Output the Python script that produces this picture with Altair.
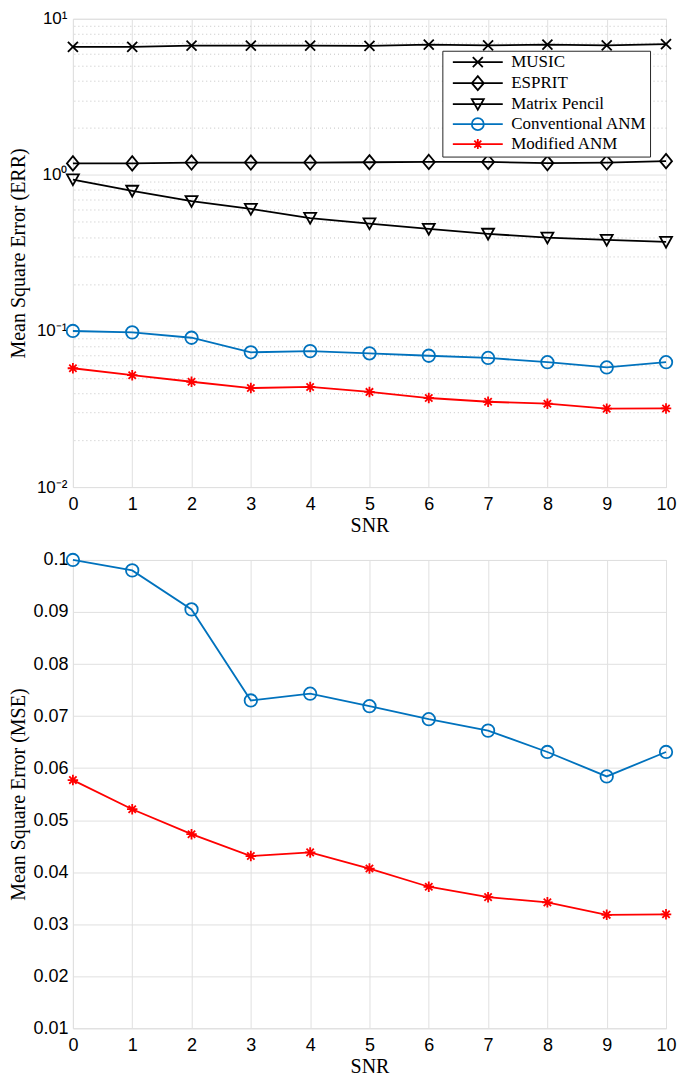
import altair as alt
import pandas as pd

# ---------------- data ----------------
snr = [0, 1, 2, 3, 4, 5, 6, 7, 8, 9, 10]
music = [6.60, 6.60, 6.73, 6.73, 6.73, 6.70, 6.83, 6.76, 6.83, 6.76, 6.89]
esprit = [1.185, 1.185, 1.20, 1.20, 1.20, 1.205, 1.21, 1.21, 1.19, 1.20, 1.225]
matrix_pencil = [0.934, 0.790, 0.679, 0.605, 0.529, 0.488, 0.451, 0.419, 0.396, 0.383, 0.372]
conventional_anm = [0.100, 0.098, 0.0905, 0.073, 0.0743, 0.0719, 0.0694, 0.0672, 0.0631, 0.0584, 0.0631]
modified_anm = [0.0577, 0.0521, 0.0473, 0.0431, 0.0438, 0.0407, 0.0372, 0.0352, 0.0342, 0.0318, 0.0319]

series_top = ["MUSIC", "ESPRIT", "Matrix Pencil", "Conventional ANM", "Modified ANM"]
series_bottom = ["Conventional ANM", "Modified ANM"]

x_ticks = [0, 1, 2, 3, 4, 5, 6, 7, 8, 9, 10]
top_major_ticks = [0.01, 0.1, 1, 10]
top_minor_ticks = [0.02, 0.03, 0.04, 0.05, 0.06, 0.07, 0.08, 0.09,
                   0.2, 0.3, 0.4, 0.5, 0.6, 0.7, 0.8, 0.9,
                   2, 3, 4, 5, 6, 7, 8, 9]
bottom_ticks = [0.01, 0.02, 0.03, 0.04, 0.05, 0.06, 0.07, 0.08, 0.09, 0.1]

values = {
    "MUSIC": music,
    "ESPRIT": esprit,
    "Matrix Pencil": matrix_pencil,
    "Conventional ANM": conventional_anm,
    "Modified ANM": modified_anm,
}

# ---------------- styles ----------------
colors = {
    "MUSIC": "#000000",
    "ESPRIT": "#000000",
    "Matrix Pencil": "#000000",
    "Conventional ANM": "#0072BD",
    "Modified ANM": "#FF0000",
}
marker_paths = {
    "MUSIC": "M-1,-1L1,1M-1,1L1,-1",
    "ESPRIT": "M0,-1.2L1,0L0,1.2L-1,0Z",
    "Matrix Pencil": "M-1,-0.85L1,-0.85L0,0.95Z",
    "Conventional ANM": "M1,0A1,1,0,1,1,-1,0A1,1,0,1,1,1,0Z",
    "Modified ANM": "M0,-1L0,1M-1,0L1,0M-0.7,-0.7L0.7,0.7M-0.7,0.7L0.7,-0.7",
}
marker_sizes = {
    "MUSIC": 100,
    "ESPRIT": 144,
    "Matrix Pencil": 144,
    "Conventional ANM": 156,
    "Modified ANM": 110,
}
# legend symbols: a line segment with the marker (unit = 5px at size 100)
legend_paths = {
    "MUSIC": "M-5,0L5,0M-1,-1L1,1M-1,1L1,-1",
    "ESPRIT": "M-5,0L5,0M0,-1.4L1.2,0L0,1.4L-1.2,0Z",
    "Matrix Pencil": "M-5,0L5,0M-1.2,-1L1.2,-1L0,1.1Z",
    "Conventional ANM": "M-5,0L5,0M1.2,0A1.2,1.2,0,1,1,-1.2,0A1.2,1.2,0,1,1,1.2,0Z",
    "Modified ANM": "M-5,0L5,0M0,-1L0,1M-1,0L1,0M-0.7,-0.7L0.7,0.7M-0.7,0.7L0.7,-0.7",
}

TICK_FONT = "Liberation Sans"
TEXT_FONT = "Liberation Serif"
GRID = "#e0e0e0"
PLOT_W = 594
LINE_W = 1.8

rows = []
for s in series_top:
    for xv, yv in zip(snr, values[s]):
        rows.append({"snr": xv, "series": s, "value": yv})
df = pd.DataFrame(rows)


def x_enc():
    return alt.X(
        "snr:Q",
        scale=alt.Scale(domain=[0, 10], nice=False, zero=False),
        axis=alt.Axis(values=x_ticks, title="SNR", grid=True, gridColor=GRID,
                      ticks=False, domain=False, labelFont=TICK_FONT, labelFontSize=18,
                      labelColor="#000", labelPadding=8, titleFont=TEXT_FONT,
                      titleFontSize=20, titleFontWeight="normal", titleColor="#000",
                      titlePadding=2, labelFlush=False),
    )


def panel(series_list, yscale, yaxis, legend_x, legend_y, height, minor=None):
    layers = []
    for s in series_list:
        base = alt.Chart(df).transform_filter(alt.datum.series == s)
        layers.append(base.mark_line(color=colors[s], strokeWidth=LINE_W).encode(
            x=x_enc(), y=alt.Y("value:Q", scale=yscale, axis=yaxis)))
        layers.append(base.mark_point(shape=marker_paths[s], filled=False,
                                      size=marker_sizes[s], color=colors[s],
                                      strokeWidth=LINE_W, opacity=1).encode(
            x=x_enc(), y=alt.Y("value:Q", scale=yscale, axis=yaxis)))
    leg = alt.Chart(df).transform_filter("datum.snr < 0").mark_point(
        filled=False, strokeWidth=LINE_W, size=100, opacity=1).encode(
        x=x_enc(),
        y=alt.Y("value:Q", scale=yscale, axis=yaxis),
        color=alt.Color("series:N",
                        scale=alt.Scale(domain=series_list,
                                        range=[colors[s] for s in series_list]),
                        legend=alt.Legend(title=None, orient="none",
                                          legendX=legend_x, legendY=legend_y,
                                          symbolSize=100, symbolStrokeWidth=LINE_W,
                                          symbolOffset=24, labelOffset=25,
                                          labelFont=TEXT_FONT, labelFontSize=17,
                                          labelColor="#000", rowPadding=0,
                                          padding=3, strokeColor="#262626",
                                          fillColor="white", labelLimit=300)),
        shape=alt.Shape("series:N",
                        scale=alt.Scale(domain=series_list,
                                        range=[legend_paths[s] for s in series_list])),
    )
    layers.append(leg)
    inner = alt.layer(*layers)
    if minor is not None:
        minor_layer = alt.Chart(df).transform_filter("datum.snr < 0").mark_point(
            opacity=0).encode(
            x=x_enc(),
            y=alt.Y("value:Q", scale=yscale,
                    axis=alt.Axis(values=minor, orient="right", labels=False,
                                  ticks=False, domain=False, title=None,
                                  grid=True, gridColor="#c4c4c4",
                                  gridDash=[1, 3], gridWidth=1,
                                  minExtent=0, maxExtent=0, labelPadding=0)),
        )
        out = alt.layer(minor_layer, inner).resolve_axis(y="independent")
    else:
        out = inner
    return out.properties(width=PLOT_W, height=height)


top_scale = alt.Scale(type="log", domain=[0.01, 10], nice=False)
top_axis = alt.Axis(values=top_major_ticks, title="Mean Square Error (ERR)",
                    grid=True, gridColor=GRID, ticks=False, domain=False,
                    labelExpr="datum.value > 5 ? '10¹' : datum.value > 0.5 ? '10⁰' : datum.value > 0.05 ? '10⁻¹' : '10⁻²'",
                    labelFont=TICK_FONT, labelFontSize=17, labelColor="#000",
                    labelPadding=6, titleFont=TEXT_FONT, titleFontSize=20,
                    titleFontWeight="normal", titleColor="#000", titlePadding=4,
                    minExtent=40, maxExtent=40, labelFlush=False)

bottom_scale = alt.Scale(domain=[0.01, 0.1], nice=False, zero=False)
bottom_axis = alt.Axis(values=bottom_ticks, title="Mean Square Error (MSE)",
                       grid=True, gridColor=GRID, ticks=False, domain=False,
                       format=".2~f",
                       labelFont=TICK_FONT, labelFontSize=18, labelColor="#000",
                       labelPadding=5, titleFont=TEXT_FONT, titleFontSize=20,
                       titleFontWeight="normal", titleColor="#000", titlePadding=4,
                       minExtent=40, maxExtent=40, labelFlush=False)

top = panel(series_top, top_scale, top_axis, PLOT_W - 12 - 212, 32, 469, minor=top_minor_ticks)
bottom = panel(series_bottom, bottom_scale, bottom_axis, PLOT_W - 21 - 216, 18, 469)

chart = alt.vconcat(top, bottom, spacing=13).properties(
    padding={"left": 0, "top": 0, "right": 0, "bottom": 0}
).configure_view(stroke="#262626", strokeWidth=1).configure(background="white")

chart.save("out.html", embed_options={"renderer": "svg", "actions": False})
